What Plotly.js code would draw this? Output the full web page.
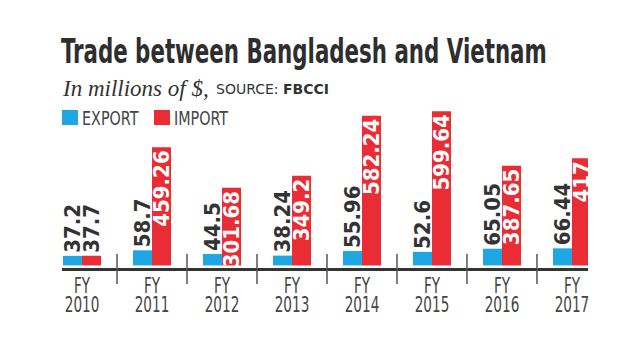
<!DOCTYPE html>
<html>
<head>
<meta charset="utf-8">
<script src="https://cdn.plot.ly/plotly-3.0.1.min.js"></script>
<style>html,body{margin:0;padding:0;background:#fff;}#chart{width:644px;height:362px;}</style>
</head>
<body>
<div id="chart"></div>
<script>
var years = ["2010", "2011", "2012", "2013", "2014", "2015", "2016", "2017"];
var tickPrefix = "FY";
var exportVals = [37.2, 58.7, 44.5, 38.24, 55.96, 52.6, 65.05, 66.44];
var importVals = [37.7, 459.26, 301.68, 349.2, 582.24, 599.64, 387.65, 417];
var exportLabels = ["37.2", "58.7", "44.5", "38.24", "55.96", "52.6", "65.05", "66.44"];
var importLabels = ["37.7", "459.26", "301.68", "349.2", "582.24", "599.64", "387.65", "417"];
var seriesNames = ["EXPORT", "IMPORT"];
var seriesColors = ["#1ea7e2", "#ea2c34"];

var NARROW = "Liberation Sans Narrow, DejaVu Sans Condensed, Arial Narrow, sans-serif";
var W = 644, H = 362, ML = 62, MR = 56, MT = 106, MB = 94;
var PW = W - ML - MR, PH = H - MT - MB;
var XRANGE = [-0.286, 7.229];
function px2x(px) { return (px - ML) / PW; }
function px2y(py) { return (H - MB - py) / PH; }

function posFor(vals) { return vals.map(function (v) { return v < 100 ? "outside" : "inside"; }); }
var idx = years.map(function (y, i) { return i; });

var traces = [
  {
    type: "bar", name: seriesNames[0], x: idx, y: exportVals,
    text: exportLabels, textposition: "outside", textangle: -90,
    constraintext: "none", cliponaxis: false,
    marker: {color: seriesColors[0]},
    outsidetextfont: {family: NARROW, size: 22, color: "#333333", weight: "bold"},
    hoverinfo: "y"
  },
  {
    type: "bar", name: seriesNames[1], x: idx, y: importVals,
    text: importLabels, textposition: posFor(importVals), textangle: -90,
    insidetextanchor: "end", constraintext: "none", cliponaxis: false,
    marker: {color: seriesColors[1]},
    insidetextfont: {family: NARROW, size: 22, color: "#ffffff", weight: "bold"},
    outsidetextfont: {family: NARROW, size: 22, color: "#333333", weight: "bold"},
    hoverinfo: "y"
  },
  {
    // empty helper trace so the second (year) label row axis exists
    type: "scatter", mode: "markers", x: [], y: [], xaxis: "x2", yaxis: "y",
    showlegend: false, hoverinfo: "skip"
  }
];

var shapes = [];
for (var i = 0; i < years.length - 1; i++) {
  shapes.push({type: "line", xref: "x", yref: "paper", x0: i + 0.5, x1: i + 0.5,
    y0: px2y(284), y1: px2y(254), line: {color: "#555555", width: 1.5}});
}
var legendX = [62, 154];
var legendTextX = [82, 174];
for (var k = 0; k < seriesNames.length; k++) {
  shapes.push({type: "rect", xref: "paper", yref: "paper",
    x0: px2x(legendX[k]), x1: px2x(legendX[k] + 16), y0: px2y(125), y1: px2y(110),
    fillcolor: seriesColors[k], line: {width: 0}});
}

var annotations = [
  {xref: "paper", yref: "paper", x: px2x(60), y: px2y(88), xanchor: "left", yanchor: "middle",
   showarrow: false, text: "<i>In millions of $,</i>",
   font: {family: "Liberation Serif, DejaVu Serif, serif", size: 23, color: "#333333"}},
  {xref: "paper", yref: "paper", x: px2x(214), y: px2y(89), xanchor: "left", yanchor: "middle",
   showarrow: false, text: "SOURCE: <b>FBCCI</b>",
   font: {family: "DejaVu Sans, sans-serif", size: 14, color: "#333333"}}
];
for (var k2 = 0; k2 < seriesNames.length; k2++) {
  annotations.push({xref: "paper", yref: "paper", x: px2x(legendTextX[k2] - 2), y: px2y(118),
    xanchor: "left", yanchor: "middle", showarrow: false, text: seriesNames[k2],
    font: {family: NARROW, size: 19, color: "#444444"}});
}

var layout = {
  width: W, height: H,
  margin: {l: ML, r: MR, t: MT, b: MB, pad: 0},
  paper_bgcolor: "#ffffff", plot_bgcolor: "#ffffff",
  showlegend: false,
  barmode: "group", bargap: 0.457, bargroupgap: 0,
  title: {
    text: "Trade between Bangladesh and Vietnam",
    xref: "container", yref: "container", x: 61 / W, xanchor: "left",
    y: 1 - 51 / H, yanchor: "middle",
    font: {family: NARROW, size: 34, color: "#2e2e2e", weight: "bold"}
  },
  xaxis: {
    type: "linear", range: XRANGE,
    tickmode: "array", tickvals: idx, ticktext: years.map(function () { return tickPrefix; }),
    ticklabelstandoff: -3,
    showline: true, linecolor: "#333333", linewidth: 2.5,
    ticks: "", showgrid: false, zeroline: false,
    tickfont: {family: NARROW, size: 21, color: "#444444"},
    fixedrange: true
  },
  xaxis2: {
    type: "linear", range: XRANGE, overlaying: "x", anchor: "y", side: "bottom",
    tickmode: "array", tickvals: idx, ticktext: years,
    ticklabelstandoff: 22,
    showline: false, ticks: "", showgrid: false, zeroline: false,
    tickfont: {family: NARROW, size: 21, color: "#444444"},
    fixedrange: true
  },
  yaxis: {
    range: [-10, 620], visible: false, showgrid: false, zeroline: false, fixedrange: true
  },
  shapes: shapes,
  annotations: annotations
};

function squeeze(el, s, anchor) {
  var bb = el.getBBox();
  var cx = anchor === "middle" ? bb.x + bb.width / 2 : bb.x;
  var prev = el.getAttribute("transform") || "";
  el.setAttribute("transform", prev + " translate(" + cx + ",0) scale(" + s + ",1) translate(" + (-cx) + ",0)");
}

Plotly.newPlot("chart", traces, layout, {displayModeBar: false, staticPlot: true}).then(function (gd) {
  var t = gd.querySelector(".g-gtitle text");
  if (t) {
    var w = t.getBBox().width;
    squeeze(t, 486 / w, "left");
  }
  gd.querySelectorAll(".xtick text, .x2tick text").forEach(function (el) { squeeze(el, 0.72, "middle"); });
  var ann = gd.querySelectorAll(".annotation-text");
  for (var a = 2; a < ann.length; a++) { squeeze(ann[a], 0.84, "left"); }
});
</script>
</body>
</html>
